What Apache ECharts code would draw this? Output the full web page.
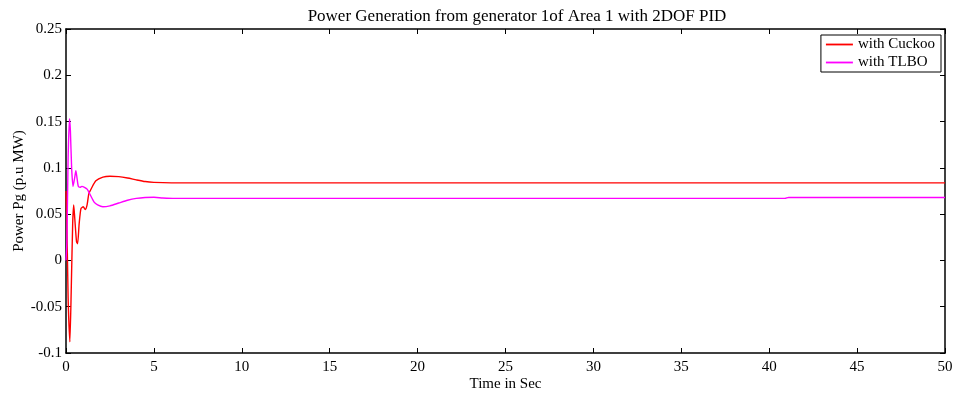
<!DOCTYPE html>
<html>
<head>
<meta charset="utf-8">
<script src="https://cdn.jsdelivr.net/npm/echarts@6/dist/echarts.min.js"></script>
<style>
  html, body { margin: 0; padding: 0; background: #fff; }
  #chart { width: 956px; height: 395px; }
</style>
</head>
<body>
<div id="chart"></div>
<script>
// time (s) / power (p.u MW) pairs
const cuckooTime = [0, 0.05, 0.12, 0.22, 0.3, 0.38, 0.44, 0.5, 0.6, 0.66, 0.75, 0.85, 0.98, 1.1, 1.2, 1.3, 1.45, 1.7, 2.1, 2.5, 3.0, 3.5, 4.0, 4.5, 5.0, 6.0, 50];
const cuckooPower = [0.075, 0.04, -0.04, -0.088, -0.03, 0.04, 0.06, 0.045, 0.02, 0.018, 0.04, 0.056, 0.058, 0.055, 0.06, 0.072, 0.078, 0.086, 0.09, 0.091, 0.0905, 0.089, 0.087, 0.0852, 0.0843, 0.0838, 0.0838];

const tlboTime = [0, 0.05, 0.12, 0.2, 0.25, 0.32, 0.4, 0.5, 0.56, 0.62, 0.7, 0.8, 0.9, 1.05, 1.2, 1.35, 1.6, 1.8, 2.1, 2.5, 3.0, 3.5, 4.0, 4.5, 5.0, 5.5, 6.2, 40.9, 41.1, 50];
const tlboPower = [0, 0.02, 0.11, 0.153, 0.14, 0.1, 0.08, 0.09, 0.097, 0.09, 0.08, 0.079, 0.08, 0.079, 0.077, 0.072, 0.063, 0.06, 0.058, 0.059, 0.062, 0.065, 0.067, 0.068, 0.0682, 0.0675, 0.067, 0.067, 0.068, 0.068];

const yTicks = [-0.1, -0.05, 0, 0.05, 0.1, 0.15, 0.2, 0.25];

const font = "Liberation Serif";
const zip = (a, b) => a.map((v, i) => [v, b[i]]);

const chart = echarts.init(document.getElementById("chart"));

const axisCommon = {
  axisLine: { show: true, onZero: false, lineStyle: { color: "#000", width: 1.5 } },
  axisTick: { show: true, inside: true, length: 5, lineStyle: { color: "#000" } },
  splitLine: { show: false },
  axisLabel: { color: "#000", fontFamily: font, fontSize: 15 },
};
const nameStyle = { fontFamily: font, fontSize: 15, color: "#000" };

chart.setOption({
  animation: false,
  backgroundColor: "#fff",
  title: {
    text: "Power Generation from generator 1of Area 1 with 2DOF PID",
    left: 512,
    textAlign: "center",
    top: 3,
    textStyle: { fontFamily: font, fontSize: 17, fontWeight: "normal", color: "#000" },
  },
  legend: {
    orient: "vertical",
    right: 15,
    top: 35,
    icon: "path://M0,0L30,0L30,2L0,2Z",
    itemWidth: 27,
    itemHeight: 2,
    itemGap: 3,
    padding: [2, 6, 2, 5],
    borderColor: "#000",
    borderWidth: 1,
    backgroundColor: "#fff",
    textStyle: { fontFamily: font, fontSize: 15, color: "#000" },
    data: ["with Cuckoo", "with TLBO"],
  },
  grid: { left: 66, right: 11, top: 29, bottom: 42, outerBoundsMode: "none", containLabel: false },
  xAxis: [
    {
      ...axisCommon,
      type: "value",
      min: 0,
      max: 50,
      interval: 5,
      name: "Time in Sec",
      nameLocation: "middle",
      nameGap: 24,
      nameMoveOverlap: false,
      nameTextStyle: nameStyle,
      axisLabel: { ...axisCommon.axisLabel, margin: 7 },
    },
    {
      ...axisCommon,
      type: "value",
      position: "top",
      min: 0,
      max: 50,
      interval: 5,
      axisLabel: { show: false },
    },
  ],
  yAxis: [
    {
      ...axisCommon,
      type: "value",
      min: yTicks[0],
      max: yTicks[yTicks.length - 1],
      interval: 0.05,
      name: "Power Pg (p.u MW)",
      nameLocation: "middle",
      nameGap: 39,
      nameMoveOverlap: false,
      nameTextStyle: nameStyle,
      axisLabel: {
        ...axisCommon.axisLabel,
        margin: 4,
        formatter: (v) => String(parseFloat(v.toFixed(4))),
      },
    },
    {
      ...axisCommon,
      type: "value",
      position: "right",
      min: yTicks[0],
      max: yTicks[yTicks.length - 1],
      interval: 0.05,
      axisLabel: { show: false },
    },
  ],
  series: [
    {
      name: "with Cuckoo",
      type: "line",
      data: zip(cuckooTime, cuckooPower),
      showSymbol: false,
      symbol: "none",
      smooth: 0.2,
      lineStyle: { color: "#ff0000", width: 1.4 },
      itemStyle: { color: "#ff0000" },
    },
    {
      name: "with TLBO",
      type: "line",
      data: zip(tlboTime, tlboPower),
      showSymbol: false,
      symbol: "none",
      smooth: 0.2,
      lineStyle: { color: "#ff00ff", width: 1.4 },
      itemStyle: { color: "#ff00ff" },
    },
  ],
});
</script>
</body>
</html>
